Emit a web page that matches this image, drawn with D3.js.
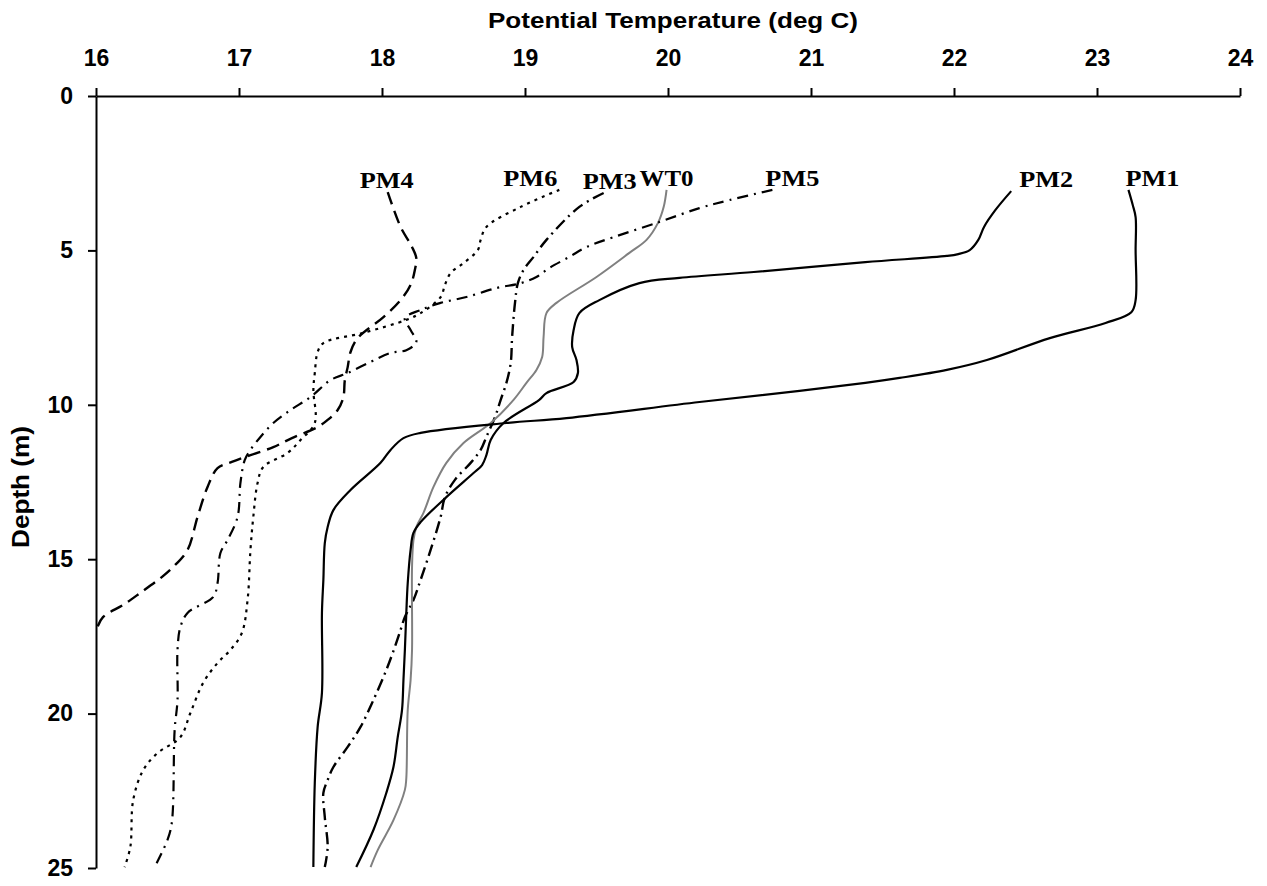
<!DOCTYPE html>
<html>
<head>
<meta charset="utf-8">
<script src="https://cdn.jsdelivr.net/npm/d3@7"></script>
<style>
  body { margin: 0; background: #fff; }
  svg { display: block; }
</style>
</head>
<body>
<div id="chart"></div>
<script>
// profile data: depth (m) and potential temperature (deg C)
const pm4Depth = [3.11, 4.24, 4.89, 5.25, 5.63, 6.12, 6.61, 7.16, 7.84, 8.29, 8.78, 9.2, 9.75, 10.17, 10.49, 10.72, 11.08, 11.37, 11.63, 11.85, 12.05, 12.66, 13.63, 14.7, 15.25, 15.58, 16.09, 16.48, 16.87, 17.2, 17.36];
const pm4Temp  = [18.04, 18.13, 18.21, 18.24, 18.23, 18.2, 18.13, 18.01, 17.83, 17.78, 17.76, 17.74, 17.73, 17.69, 17.62, 17.55, 17.37, 17.24, 17.08, 16.95, 16.85, 16.78, 16.71, 16.64, 16.54, 16.46, 16.31, 16.19, 16.05, 16.01, 16.0];

const pm6Depth = [3.04, 3.59, 4.24, 4.66, 4.99, 5.41, 5.73, 6.12, 6.51, 7.03, 7.25, 7.67, 8.0, 8.29, 8.97, 9.52, 10.59, 11.14, 11.56, 12.01, 12.53, 13.63, 14.7, 16.32, 17.39, 17.94, 18.36, 19.0, 19.98, 20.76, 21.28, 21.83, 22.8, 24.32, 24.97];
const pm6Temp  = [19.24, 18.97, 18.73, 18.69, 18.67, 18.57, 18.48, 18.44, 18.41, 18.27, 18.17, 17.87, 17.59, 17.55, 17.53, 17.52, 17.53, 17.43, 17.34, 17.17, 17.13, 17.1, 17.08, 17.06, 17.02, 16.94, 16.85, 16.75, 16.66, 16.59, 16.43, 16.33, 16.26, 16.24, 16.2];

const pm3Depth = [3.14, 3.59, 4.66, 5.21, 5.63, 6.06, 6.7, 7.8, 8.65, 9.29, 9.84, 10.4, 11.04, 11.46, 11.88, 12.43, 12.99, 13.63, 14.7, 15.67, 16.32, 16.87, 17.29, 17.84, 18.59, 19.56, 20.43, 21.08, 21.73, 22.15, 22.57, 23.35, 24.32, 24.97];
const pm3Temp  = [19.55, 19.38, 19.15, 19.06, 18.99, 18.95, 18.93, 18.91, 18.9, 18.87, 18.83, 18.79, 18.73, 18.69, 18.62, 18.51, 18.44, 18.41, 18.34, 18.27, 18.22, 18.16, 18.13, 18.09, 18.03, 17.94, 17.85, 17.76, 17.66, 17.62, 17.59, 17.6, 17.62, 17.6];

const wt0Depth = [3.04, 3.59, 4.11, 4.66, 5.08, 5.86, 6.7, 7.03, 7.8, 8.45, 8.87, 9.29, 9.84, 10.59, 11.24, 11.88, 12.66, 13.5, 13.96, 14.38, 15.25, 17.94, 18.91, 19.88, 22.09, 22.47, 23.45, 24.42, 24.97];
const wt0Temp  = [19.99, 19.97, 19.93, 19.85, 19.73, 19.5, 19.22, 19.15, 19.13, 19.12, 19.08, 19.01, 18.92, 18.76, 18.57, 18.45, 18.36, 18.29, 18.24, 18.22, 18.21, 18.21, 18.2, 18.18, 18.17, 18.16, 18.08, 17.97, 17.92];

const pm5Depth = [3.04, 3.37, 3.63, 4.08, 4.57, 4.89, 5.21, 5.57, 5.86, 6.06, 6.22, 6.51, 6.7, 6.93, 7.19, 7.58, 7.97, 8.23, 8.32, 8.61, 8.97, 9.2, 9.75, 10.17, 10.59, 11.04, 11.46, 11.79, 12.53, 13.63, 14.38, 14.8, 15.77, 16.22, 16.74, 17.2, 17.94, 19.56, 20.53, 23.54, 24.09, 24.97];
const pm5Temp  = [20.73, 20.43, 20.22, 19.94, 19.62, 19.43, 19.31, 19.17, 19.08, 18.97, 18.8, 18.59, 18.41, 18.27, 18.16, 18.2, 18.24, 18.17, 18.06, 17.92, 17.76, 17.64, 17.5, 17.36, 17.24, 17.15, 17.08, 17.04, 17.01, 16.99, 16.92, 16.87, 16.85, 16.82, 16.64, 16.59, 16.57, 16.57, 16.55, 16.53, 16.5, 16.41];

const pm2Depth = [3.08, 3.69, 4.24, 4.66, 4.99, 5.12, 5.18, 5.38, 5.7, 5.89, 6.06, 6.61, 7.03, 7.58, 8.13, 8.55, 8.97, 9.26, 9.62, 9.84, 10.59, 11.14, 11.63, 11.95, 12.21, 12.99, 13.8, 14.15, 14.7, 15.77, 16.74, 17.94, 18.91, 19.88, 20.76, 21.73, 22.57, 23.77, 24.97];
const pm2Temp  = [22.4, 22.29, 22.21, 22.17, 22.11, 22.03, 21.95, 21.38, 20.6, 20.08, 19.8, 19.52, 19.38, 19.34, 19.33, 19.36, 19.37, 19.34, 19.15, 19.1, 18.85, 18.76, 18.73, 18.7, 18.64, 18.45, 18.27, 18.22, 18.2, 18.18, 18.17, 18.16, 18.15, 18.14, 18.11, 18.08, 18.03, 17.94, 17.82];

const pm1Depth = [3.04, 3.53, 3.92, 4.99, 6.61, 7.0, 7.35, 7.84, 8.55, 8.87, 9.13, 9.29, 9.55, 9.91, 10.43, 10.59, 10.91, 11.08, 11.46, 11.88, 12.76, 13.41, 13.96, 14.48, 15.67, 16.74, 19.33, 20.43, 22.25, 24.97];
const pm1Temp  = [23.22, 23.25, 23.27, 23.27, 23.27, 23.24, 23.06, 22.67, 22.23, 21.95, 21.62, 21.38, 20.92, 20.22, 19.29, 18.87, 18.27, 18.15, 18.06, 17.99, 17.78, 17.66, 17.62, 17.6, 17.59, 17.58, 17.58, 17.55, 17.53, 17.52];

const xTicks = [16, 17, 18, 19, 20, 21, 22, 23, 24];
const yTicks = [0, 5, 10, 15, 20, 25];

const series = [
  { name: "PM4", depth: pm4Depth, temp: pm4Temp },
  { name: "PM6", depth: pm6Depth, temp: pm6Temp },
  { name: "PM3", depth: pm3Depth, temp: pm3Temp },
  { name: "WT0", depth: wt0Depth, temp: wt0Temp },
  { name: "PM5", depth: pm5Depth, temp: pm5Temp },
  { name: "PM2", depth: pm2Depth, temp: pm2Temp },
  { name: "PM1", depth: pm1Depth, temp: pm1Temp }
];

// line looks
const styles = {
  PM4: { stroke: "#000", width: 2.4, dash: "13,7" },
  PM6: { stroke: "#000", width: 2.2, dash: "3,5" },
  PM3: { stroke: "#000", width: 2.4, dash: "12,5,2,5" },
  WT0: { stroke: "#808080", width: 2, dash: null },
  PM5: { stroke: "#000", width: 2.2, dash: "11,6,2,6" },
  PM2: { stroke: "#000", width: 2.2, dash: null },
  PM1: { stroke: "#000", width: 2.2, dash: null }
};
// label shift from the top of each profile
const labelDx = { PM4: -1, PM6: -29, PM3: 6, WT0: 0, PM5: 20, PM2: 35, PM1: 24 };

const width = 1267, height = 886;

const svg = d3.select("#chart")
  .append("svg")
  .attr("width", width)
  .attr("height", height);

const x = d3.scaleLinear().domain([16, 24]).range([96, 1240]);
const y = d3.scaleLinear().domain([0, 25]).range([96, 868]);

const xAxis = svg.append("g")
  .attr("transform", `translate(0,${y(0)})`)
  .call(d3.axisTop(x).tickValues(xTicks).tickSize(8).tickPadding(22).tickSizeOuter(0));

const yAxis = svg.append("g")
  .attr("transform", `translate(${x(16)},0)`)
  .call(d3.axisLeft(y).tickValues(yTicks).tickSize(8).tickPadding(15).tickSizeOuter(0));

[xAxis, yAxis].forEach(g => {
  g.select(".domain").attr("stroke", "#000").attr("stroke-width", 2);
  g.selectAll(".tick line").attr("stroke", "#000").attr("stroke-width", 2);
  g.selectAll(".tick text")
    .attr("fill", "#000")
    .style("font-family", "Arial, 'Liberation Sans', sans-serif")
    .style("font-weight", "bold")
    .style("font-size", "23px");
});

svg.append("text")
  .attr("x", 673)
  .attr("y", 28)
  .attr("text-anchor", "middle")
  .attr("textLength", 370)
  .attr("lengthAdjust", "spacingAndGlyphs")
  .style("font-family", "Arial, 'Liberation Sans', sans-serif")
  .style("font-weight", "bold")
  .style("font-size", "22px")
  .text("Potential Temperature (deg C)");

svg.append("text")
  .attr("transform", "translate(29,487) rotate(-90)")
  .attr("text-anchor", "middle")
  .attr("textLength", 122)
  .attr("lengthAdjust", "spacingAndGlyphs")
  .style("font-family", "Arial, 'Liberation Sans', sans-serif")
  .style("font-weight", "bold")
  .style("font-size", "23px")
  .text("Depth (m)");

const line = d3.line()
  .x(d => x(d[1]))
  .y(d => y(d[0]))
  .curve(d3.curveCatmullRom.alpha(0.5));

svg.append("g")
  .selectAll("path")
  .data(series)
  .join("path")
  .attr("fill", "none")
  .attr("stroke", d => styles[d.name].stroke)
  .attr("stroke-width", d => styles[d.name].width)
  .attr("stroke-dasharray", d => styles[d.name].dash)
  .attr("d", d => line(d3.zip(d.depth, d.temp)));

svg.append("g")
  .selectAll("text")
  .data(series)
  .join("text")
  .attr("x", d => x(d.temp[0]) + labelDx[d.name])
  .attr("y", d => y(d.depth[0]) - 4)
  .attr("text-anchor", "middle")
  .attr("textLength", 54)
  .attr("lengthAdjust", "spacingAndGlyphs")
  .style("font-family", "'Liberation Serif', 'Times New Roman', serif")
  .style("font-weight", "bold")
  .style("font-size", "23px")
  .text(d => d.name);
</script>
</body>
</html>
